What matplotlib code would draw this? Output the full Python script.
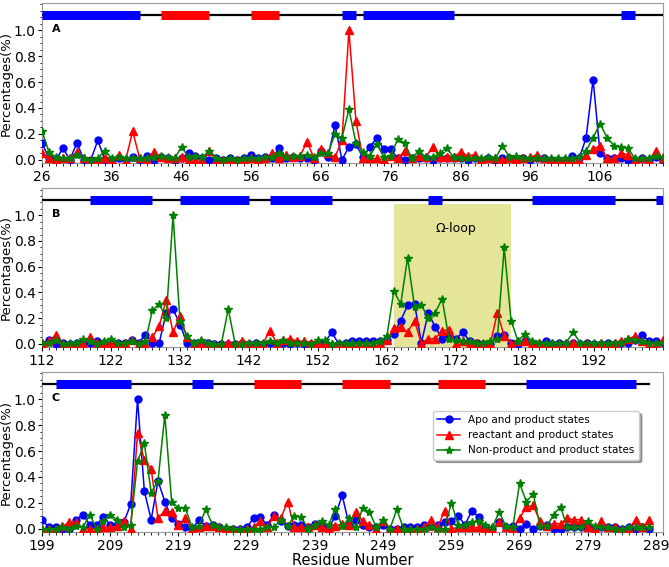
import numpy as np
import matplotlib
matplotlib.use("Agg")
import matplotlib.pyplot as plt
from matplotlib.ticker import MultipleLocator
from matplotlib.patches import Rectangle

# residue ranges
resA = np.arange(26, 116)
resB = np.arange(112, 203)
resC = np.arange(199, 289)

# panel A
apoA = [0.13, 0.01, 0.0, 0.09, 0.0, 0.13, 0.0, 0.0, 0.15, 0.0,
        0.0, 0.01, 0.0, 0.02, 0.0, 0.03, 0.0, 0.02, 0.01, 0.0,
        0.01, 0.05, 0.03, 0.01, 0.0, 0.01, 0.0, 0.01, 0.0, 0.01,
        0.04, 0.01, 0.02, 0.01, 0.09, 0.01, 0.02, 0.01, 0.01, 0.0,
        0.07, 0.02, 0.27, 0.0, 0.10, 0.12, 0.02, 0.10, 0.17, 0.08,
        0.08, 0.01, 0.0, 0.01, 0.01, 0.01, 0.0, 0.01, 0.01, 0.01,
        0.01, 0.0, 0.01, 0.0, 0.01, 0.0, 0.01, 0.01, 0.0, 0.01,
        0.0, 0.01, 0.01, 0.0, 0.0, 0.0, 0.03, 0.01, 0.17, 0.62,
        0.05, 0.01, 0.01, 0.01, 0.0, 0.0, 0.01, 0.0, 0.02, 0.0]
reacA = [0.05, 0.01, 0.0, 0.01, 0.01, 0.06, 0.01, 0.0, 0.0, 0.01,
         0.0, 0.04, 0.0, 0.22, 0.01, 0.0, 0.06, 0.02, 0.01, 0.01,
         0.02, 0.0, 0.0, 0.0, 0.07, 0.0, 0.0, 0.0, 0.0, 0.0,
         0.01, 0.0, 0.01, 0.05, 0.01, 0.04, 0.02, 0.03, 0.14, 0.01,
         0.08, 0.05, 0.02, 0.15, 1.0, 0.30, 0.01, 0.01, 0.01, 0.0,
         0.03, 0.01, 0.07, 0.01, 0.03, 0.02, 0.10, 0.02, 0.02, 0.02,
         0.06, 0.03, 0.04, 0.0, 0.01, 0.01, 0.0, 0.01, 0.0, 0.01,
         0.02, 0.04, 0.01, 0.0, 0.0, 0.0, 0.0, 0.0, 0.04, 0.08,
         0.11, 0.01, 0.01, 0.05, 0.04, 0.0, 0.01, 0.0, 0.07, 0.01]
nonA = [0.22, 0.06, 0.02, 0.01, 0.01, 0.04, 0.01, 0.0, 0.01, 0.07,
        0.01, 0.02, 0.01, 0.01, 0.01, 0.01, 0.02, 0.03, 0.02, 0.01,
        0.10, 0.02, 0.03, 0.02, 0.07, 0.01, 0.0, 0.01, 0.0, 0.01,
        0.01, 0.01, 0.02, 0.02, 0.05, 0.02, 0.03, 0.03, 0.04, 0.02,
        0.05, 0.05, 0.20, 0.17, 0.39, 0.13, 0.06, 0.03, 0.12, 0.02,
        0.03, 0.16, 0.13, 0.01, 0.07, 0.02, 0.02, 0.05, 0.09, 0.02,
        0.01, 0.01, 0.01, 0.01, 0.02, 0.01, 0.11, 0.02, 0.03, 0.01,
        0.01, 0.01, 0.01, 0.01, 0.01, 0.01, 0.01, 0.02, 0.07, 0.17,
        0.28, 0.17, 0.11, 0.10, 0.09, 0.01, 0.01, 0.01, 0.03, 0.02]

# panel B
apoB = [0.0, 0.03, 0.0, 0.01, 0.0, 0.01, 0.0, 0.01, 0.02, 0.01,
        0.0, 0.01, 0.01, 0.03, 0.01, 0.07, 0.01, 0.01, 0.24, 0.27,
        0.15, 0.01, 0.01, 0.0, 0.01, 0.0, 0.0, 0.0, 0.0, 0.01,
        0.0, 0.01, 0.0, 0.01, 0.0, 0.01, 0.0, 0.01, 0.0, 0.0,
        0.01, 0.01, 0.09, 0.0, 0.01, 0.02, 0.02, 0.02, 0.02, 0.02,
        0.03, 0.08, 0.18, 0.30, 0.31, 0.01, 0.24, 0.13, 0.04, 0.06,
        0.04, 0.09, 0.02, 0.01, 0.0, 0.0, 0.06, 0.07, 0.01, 0.0,
        0.02, 0.01, 0.0, 0.02, 0.0, 0.01, 0.0, 0.01, 0.0, 0.01,
        0.0, 0.0, 0.01, 0.0, 0.01, 0.01, 0.03, 0.07, 0.02, 0.02,
        0.01]
reacB = [0.01, 0.02, 0.07, 0.0, 0.0, 0.0, 0.0, 0.05, 0.01, 0.0,
         0.01, 0.0, 0.01, 0.03, 0.0, 0.0, 0.05, 0.14, 0.34, 0.09,
         0.22, 0.05, 0.0, 0.0, 0.01, 0.0, 0.0, 0.01, 0.0, 0.02,
         0.0, 0.01, 0.0, 0.10, 0.01, 0.03, 0.04, 0.02, 0.02, 0.01,
         0.0, 0.0, 0.0, 0.0, 0.0, 0.01, 0.0, 0.01, 0.0, 0.01,
         0.03, 0.12, 0.13, 0.09, 0.18, 0.0, 0.04, 0.04, 0.10, 0.11,
         0.0, 0.02, 0.0, 0.01, 0.0, 0.0, 0.24, 0.06, 0.0, 0.02,
         0.02, 0.0, 0.01, 0.0, 0.01, 0.0, 0.01, 0.01, 0.0, 0.01,
         0.0, 0.01, 0.0, 0.01, 0.02, 0.04, 0.06, 0.02, 0.0, 0.0,
         0.03]
nonB = [0.01, 0.01, 0.03, 0.0, 0.01, 0.01, 0.04, 0.02, 0.0, 0.02,
        0.04, 0.01, 0.01, 0.02, 0.0, 0.02, 0.26, 0.31, 0.20, 1.0,
        0.18, 0.06, 0.01, 0.03, 0.01, 0.0, 0.0, 0.27, 0.0, 0.0,
        0.01, 0.01, 0.01, 0.02, 0.01, 0.03, 0.01, 0.01, 0.01, 0.0,
        0.03, 0.03, 0.0, 0.01, 0.01, 0.01, 0.01, 0.01, 0.01, 0.02,
        0.06, 0.41, 0.31, 0.67, 0.29, 0.30, 0.20, 0.24, 0.35, 0.04,
        0.03, 0.02, 0.02, 0.01, 0.01, 0.02, 0.04, 0.75, 0.18, 0.02,
        0.08, 0.02, 0.01, 0.01, 0.01, 0.01, 0.01, 0.09, 0.01, 0.01,
        0.01, 0.01, 0.01, 0.01, 0.01, 0.04, 0.03, 0.02, 0.01, 0.01,
        0.01]

# panel C
apoC = [0.07, 0.01, 0.01, 0.0, 0.0, 0.07, 0.11, 0.03, 0.03, 0.09,
        0.03, 0.03, 0.05, 0.19, 1.0, 0.29, 0.07, 0.37, 0.21, 0.08,
        0.04, 0.01, 0.0, 0.07, 0.02, 0.03, 0.01, 0.0, 0.0, 0.0,
        0.01, 0.08, 0.09, 0.03, 0.11, 0.06, 0.02, 0.03, 0.03, 0.01,
        0.04, 0.03, 0.0, 0.10, 0.26, 0.03, 0.07, 0.03, 0.01, 0.01,
        0.03, 0.0, 0.0, 0.01, 0.01, 0.01, 0.03, 0.02, 0.03, 0.05,
        0.06, 0.10, 0.03, 0.14, 0.09, 0.01, 0.0, 0.05, 0.01, 0.02,
        0.0, 0.04, 0.0, 0.02, 0.03, 0.0, 0.0, 0.01, 0.01, 0.01,
        0.01, 0.0, 0.01, 0.01, 0.01, 0.0, 0.01, 0.0, 0.01, 0.0]
reacC = [0.0, 0.0, 0.0, 0.02, 0.05, 0.05, 0.0, 0.0, 0.0, 0.01,
         0.01, 0.02, 0.06, 0.0, 0.74, 0.53, 0.46, 0.08, 0.14, 0.13,
         0.03, 0.08, 0.0, 0.01, 0.02, 0.02, 0.01, 0.0, 0.0, 0.0,
         0.0, 0.01, 0.06, 0.01, 0.10, 0.08, 0.21, 0.01, 0.01, 0.01,
         0.03, 0.01, 0.0, 0.02, 0.04, 0.03, 0.13, 0.06, 0.03, 0.0,
         0.06, 0.0, 0.0, 0.0, 0.0, 0.0, 0.01, 0.07, 0.01, 0.14,
         0.0, 0.01, 0.01, 0.01, 0.01, 0.0, 0.0, 0.05, 0.01, 0.0,
         0.08, 0.17, 0.18, 0.06, 0.02, 0.04, 0.04, 0.08, 0.07, 0.07,
         0.01, 0.0, 0.06, 0.01, 0.01, 0.0, 0.0, 0.07, 0.01, 0.07]
nonC = [0.0, 0.0, 0.0, 0.01, 0.0, 0.02, 0.01, 0.11, 0.0, 0.06,
        0.11, 0.07, 0.01, 0.03, 0.52, 0.66, 0.28, 0.37, 0.88, 0.21,
        0.16, 0.16, 0.01, 0.02, 0.15, 0.03, 0.01, 0.01, 0.0, 0.0,
        0.0, 0.0, 0.0, 0.01, 0.01, 0.07, 0.02, 0.10, 0.09, 0.0,
        0.03, 0.06, 0.03, 0.15, 0.02, 0.08, 0.01, 0.16, 0.13, 0.01,
        0.07, 0.0, 0.15, 0.0, 0.0, 0.0, 0.0, 0.01, 0.0, 0.0,
        0.20, 0.03, 0.03, 0.05, 0.06, 0.03, 0.01, 0.13, 0.02, 0.01,
        0.35, 0.21, 0.27, 0.02, 0.02, 0.11, 0.17, 0.01, 0.01, 0.01,
        0.06, 0.02, 0.01, 0.01, 0.0, 0.0, 0.01, 0.01, 0.01, 0.01]

# secondary structure: (start, end, colour)
ssA = [(26, 40, "b"), (43, 50, "r"), (56, 60, "r"), (69, 71, "b"),
       (72, 85, "b"), (109, 111, "b")]
ssB = [(119, 128, "b"), (132, 142, "b"), (145, 154, "b"), (168, 170, "b"),
       (183, 195, "b"), (201, 203, "b")]
ssC = [(201, 212, "b"), (221, 224, "b"), (230, 237, "r"), (243, 250, "r"),
       (257, 264, "r"), (270, 286, "b")]

labels = ["Apo and product states", "reactant and product states",
          "Non-product and product states"]

panels = [
    ("A", resA, apoA, reacA, nonA, ssA, (26, 115), (26, 115)),
    ("B", resB, apoB, reacB, nonB, ssB, (112, 202), (112, 202)),
    ("C", resC, apoC, reacC, nonC, ssC, (199, 290), (199, 288)),
]
axes_pos = [(0.0628, 0.7125, 0.928, 0.282),
            (0.0628, 0.388, 0.928, 0.28),
            (0.0628, 0.0617, 0.928, 0.282)]

fig = plt.figure(figsize=(6.69, 5.67), dpi=100)

for (tag, res, apo, reac, non, ss, xlim, ssline), pos in zip(panels, axes_pos):
    ax = fig.add_axes(pos)
    ax.set_xlim(*xlim)
    ax.set_ylim(-0.025, 1.21)

    if tag == "B":
        ax.add_patch(Rectangle((163, -0.025), 17, 1.11, color="y",
                               alpha=0.4, lw=0, zorder=0))
        ax.text(172, 0.9, "\u03a9-loop", ha="center", va="center", fontsize=9)

    ax.plot(res, apo, "b-o", ms=5, lw=1.1, label=labels[0], zorder=3)
    ax.plot(res, reac, "r-^", ms=5.5, lw=1.1, label=labels[1], zorder=4)
    ax.plot(res, non, "g-*", ms=6, lw=1.1, label=labels[2], zorder=5)

    # secondary structure strip
    ax.plot(ssline, [1.12, 1.12], color="k", lw=1.6, zorder=6)
    for s, e, c in ss:
        ax.plot([s, e], [1.12, 1.12], color=c, lw=6.5, solid_capstyle="butt",
                zorder=7)

    ax.text(0.016, 0.84, tag, transform=ax.transAxes, fontweight="bold",
            fontsize=8, ha="left", va="center")

    ax.set_xticks(np.arange(xlim[0], xlim[1], 10))
    ax.xaxis.set_minor_locator(MultipleLocator(1))
    ax.set_yticks([0.0, 0.2, 0.4, 0.6, 0.8, 1.0])
    ax.yaxis.set_minor_locator(MultipleLocator(0.05))
    ax.tick_params(which="major", labelsize=10, length=3, width=0.8)
    ax.tick_params(which="minor", length=1.8, width=0.6)
    ax.tick_params(axis="y", pad=1.5)
    ax.tick_params(axis="x", pad=2)
    ax.set_ylabel("Percentages(%)", fontsize=9.5, labelpad=0.5)
    for sp in ax.spines.values():
        sp.set_color("#999999")

    if tag == "C":
        ax.set_xlabel("Residue Number", fontsize=10.5, labelpad=0)
        ax.legend(loc="upper right", bbox_to_anchor=(0.97, 0.79), fontsize=7.5,
                  shadow=True, framealpha=1, handlelength=2.2)

fig.savefig("out.png", dpi=100)
